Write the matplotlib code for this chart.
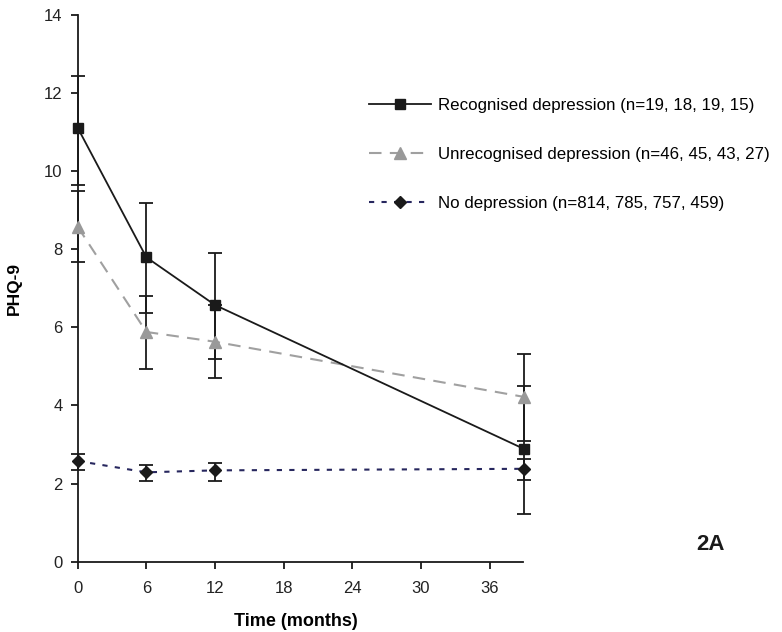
import matplotlib
matplotlib.use('Agg')
import matplotlib.pyplot as plt

plt.rcParams['font.family'] = ['Liberation Sans', 'DejaVu Sans']

# data
months = [0, 6, 12, 39]

recog = [11.1, 7.79, 6.57, 2.89]
recog_lo = [9.65, 6.37, 5.18, 1.22]
recog_hi = [12.44, 9.18, 7.91, 4.49]

unrecog = [8.57, 5.88, 5.63, 4.22]
unrecog_lo = [7.67, 4.94, 4.69, 3.09]
unrecog_hi = [9.49, 6.81, 6.57, 5.31]

nodep = [2.58, 2.29, 2.34, 2.38]
nodep_lo = [2.36, 2.07, 2.08, 2.09]
nodep_hi = [2.77, 2.49, 2.52, 2.62]

labels = ['Recognised depression (n=19, 18, 19, 15)',
          'Unrecognised depression (n=46, 45, 43, 27)',
          'No depression (n=814, 785, 757, 459)']

fig = plt.figure(figsize=(7.82, 6.32), dpi=100)
ax = fig.add_axes([0.0994, 0.111, 0.569, 0.866])


def err(v, lo, hi):
    return [[a - b for a, b in zip(v, lo)], [b - a for a, b in zip(v, hi)]]


# error bars (all black)
for v, lo, hi in [(recog, recog_lo, recog_hi), (unrecog, unrecog_lo, unrecog_hi),
                  (nodep, nodep_lo, nodep_hi)]:
    eb = ax.errorbar(months, v, yerr=err(v, lo, hi), fmt='none', ecolor='#1a1a1a',
                     elinewidth=1.3, capsize=5, capthick=1.3, zorder=2)
    for a in eb.lines[1] + eb.lines[2]:
        a.set_clip_on(False)

l1, = ax.plot(months, recog, color='#1a1a1a', lw=1.3, marker='s', ms=6.5,
              mfc='#1a1a1a', mec='#1a1a1a', clip_on=False, zorder=4)
l2, = ax.plot(months, unrecog, color='#a0a0a0', lw=1.5, ls=(0, (6, 4)), marker='^',
              ms=8, mfc='#999999', mec='#999999', clip_on=False, zorder=3)
l3, = ax.plot(months, nodep, color='#27275e', lw=1.5, ls=(0, (2.5, 3.5)), marker='D',
              ms=6, mfc='#1a1a1a', mec='#1a1a1a', clip_on=False, zorder=4)

ax.set_xlim(0, 38.9)
ax.set_ylim(0, 14)
ax.set_xticks([0, 6, 12, 18, 24, 30, 36])
ax.set_yticks(range(0, 15, 2))
for s in ['top', 'right']:
    ax.spines[s].set_visible(False)
for s in ['left', 'bottom']:
    ax.spines[s].set_linewidth(1.3)
    ax.spines[s].set_color('#1a1a1a')
ax.tick_params(direction='out', length=5, width=1.3, color='#1a1a1a',
               labelsize=12, labelcolor='#222222')
ax.tick_params(axis='x', pad=9)
ax.tick_params(axis='y', pad=6)

ax.set_xlabel('Time (months)', fontsize=13, fontweight='bold', labelpad=13)
ax.xaxis.set_label_coords(0.49, -0.094)
ax.set_ylabel('PHQ-9', fontsize=12.5, fontweight='bold', labelpad=16)

fig.legend([l1, l2, l3], labels, loc='upper left', bbox_to_anchor=(0.453, 0.869),
           frameon=False, fontsize=12.2, numpoints=1, handlelength=3.65,
           handletextpad=0.4, labelspacing=2.0)

fig.text(0.908, 0.139, '2A', fontsize=16, fontweight='bold', ha='center',
         va='center', color='#1a1a1a')

fig.savefig('out.png', dpi=100)
